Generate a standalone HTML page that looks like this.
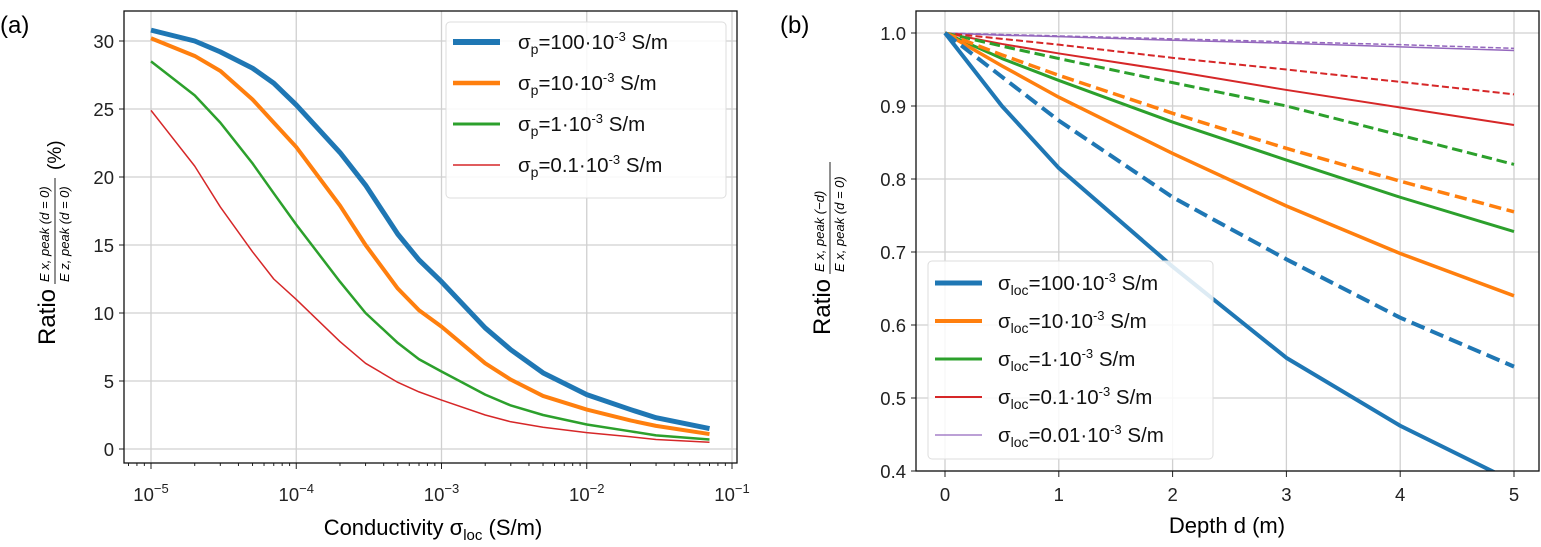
<!DOCTYPE html>
<html><head><meta charset="utf-8"><style>
body{margin:0;background:#fff}
svg{display:block;font-family:"Liberation Sans",sans-serif}
.tk{font-size:18.5px;fill:#222}
.lg{font-size:20.5px;fill:#111}
</style></head><body>
<svg id="fig" width="1541" height="547" viewBox="0 0 1541 547" xmlns="http://www.w3.org/2000/svg">
<text x="0" y="33" font-size="24">(a)</text>
<text x="780" y="33" font-size="24">(b)</text>
<g id="ga"></g>
<g id="gb"></g>
</svg>
<script>
const NS="http://www.w3.org/2000/svg";
// ---- Chart A data ----
const aX=[1e-5,2e-5,3e-5,5e-5,7e-5,1e-4,2e-4,3e-4,5e-4,7e-4,1e-3,2e-3,3e-3,5e-3,1e-2,2e-2,3e-2,7e-2];
const aBlue=[30.8,30,29.2,28,26.9,25.3,21.8,19.4,15.8,13.9,12.3,8.9,7.3,5.6,4.0,2.9,2.3,1.5];
const aOrange=[30.2,28.9,27.8,25.7,24,22.2,17.9,15,11.8,10.2,9,6.3,5.1,3.9,2.9,2.1,1.7,1.1];
const aGreen=[28.5,26,24,21,18.8,16.5,12.3,10,7.8,6.6,5.7,4,3.2,2.5,1.8,1.3,1.0,0.7];
const aRed=[24.9,20.8,17.8,14.5,12.5,11,7.9,6.3,4.9,4.2,3.6,2.5,2,1.6,1.2,0.9,0.7,0.5];
const aYTicks=[0,5,10,15,20,25,30];
const aXTicks=[-5,-4,-3,-2,-1];
const aLegend=["100·10","10·10","1·10","0.1·10"];
// ---- Chart B data ----
const bX=[0,0.5,1,2,3,4,5];
const bBlueS=[1,0.9,0.815,0.68,0.555,0.462,0.385];
const bBlueD=[1,0.94,0.88,0.775,0.69,0.61,0.543];
const bOrangeS=[1,0.955,0.912,0.835,0.763,0.698,0.64];
const bOrangeD=[1,0.97,0.942,0.89,0.842,0.797,0.755];
const bGreenS=[1,0.965,0.935,0.878,0.826,0.775,0.728];
const bGreenD=[1,0.982,0.965,0.932,0.9,0.86,0.82];
const bRedS=[1,0.985,0.972,0.948,0.922,0.898,0.874];
const bRedD=[1,0.992,0.984,0.966,0.95,0.933,0.916];
const bPurpS=[1,0.997,0.995,0.99,0.986,0.981,0.976];
const bPurpD=[1,0.998,0.996,0.992,0.988,0.984,0.979];
const bYTicks=[0.4,0.5,0.6,0.7,0.8,0.9,1.0];
const bXTicks=[0,1,2,3,4,5];
const bLegend=["100·10","10·10","1·10","0.1·10","0.01·10"];

function el(p,tag,attrs,txt){const e=document.createElementNS(NS,tag);for(const k in attrs)e.setAttribute(k,attrs[k]);if(txt!==undefined)e.textContent=txt;p.appendChild(e);return e;}
const C={b:"#1f77b4",o:"#ff7f0e",g:"#2ca02c",r:"#d62728",p:"#9467bd"};

// ===== Chart A =====
const ga=document.getElementById('ga');
const aL=124,aR=737,aT=11,aB=463;
const axX=v=>151+(Math.log10(v)+5)*145.25;
const axY=v=>449-v*13.6;
aYTicks.forEach(t=>{
 const g=el(ga,'line',{x1:aL,x2:aR,y1:axY(t),y2:axY(t),stroke:"#d0d0d0","stroke-width":1.3});
 
 el(ga,'line',{x1:aL-5,x2:aL,y1:axY(t),y2:axY(t),stroke:"#222"});
 const tx=el(ga,'text',{x:aL-10,y:axY(t)+7,"text-anchor":"end",class:"tk"},String(t));
 
});
aXTicks.forEach(e=>{
 const x=axX(Math.pow(10,e));
 const g=el(ga,'line',{x1:x,x2:x,y1:aT,y2:aB,stroke:"#d0d0d0","stroke-width":1.3});
 
 el(ga,'line',{x1:x,x2:x,y1:aB,y2:aB+6,stroke:"#222"});
 const tx=el(ga,'text',{x:x,y:501,"text-anchor":"middle",class:"tk"});
 
 el(tx,'tspan',{},"10");el(tx,'tspan',{dy:-8,"font-size":13},"−"+Math.abs(e));
 for(let m=2;m<10&&e<-1;m++){const xm=axX(m*Math.pow(10,e));el(ga,'line',{x1:xm,x2:xm,y1:aB,y2:aB+3,stroke:"#222"});}
});
for(let m=5;m<10;m++){const xm=axX(m*1e-6);if(xm>aL)el(ga,'line',{x1:xm,x2:xm,y1:aB,y2:aB+3,stroke:"#222"});}
[[aBlue,C.b,5,'series-sigma-p-100'],[aOrange,C.o,4,'series-sigma-p-10'],[aGreen,C.g,2.5,'series-sigma-p-1'],[aRed,C.r,1.5,'series-sigma-p-0.1']].forEach(([d,c,w,n])=>{
 const p=el(ga,'polyline',{points:d.map((v,i)=>axX(aX[i])+","+axY(v)).join(" "),fill:"none",stroke:c,"stroke-width":w,"stroke-linejoin":"round"});
 
});
el(ga,'rect',{x:aL,y:aT,width:aR-aL,height:aB-aT,fill:"none",stroke:"#111","stroke-width":1.3});
const la=el(ga,'rect',{x:446,y:22,width:280,height:176,fill:"#fff","fill-opacity":0.85,stroke:"#ddd",rx:4});

[[C.b,6],[C.o,4.5],[C.g,3],[C.r,1.5]].forEach(([c,w],i)=>{
 const y=42+i*41;
 el(ga,'line',{x1:453,x2:500,y1:y,y2:y,stroke:c,"stroke-width":w});
 const t=el(ga,'text',{x:518,y:y+7,class:"lg"});
 
 el(t,'tspan',{},"σ");el(t,'tspan',{dy:5,"font-size":14},"p");el(t,'tspan',{dy:-5},"="+aLegend[i]);
 el(t,'tspan',{dy:-8,"font-size":13},"-3");el(t,'tspan',{dy:8},"\u00a0S/m");
});
const xa=el(ga,'text',{x:433,y:535,"text-anchor":"middle","font-size":22});

el(xa,'tspan',{},"Conductivity σ");el(xa,'tspan',{dy:5,"font-size":15},"loc");el(xa,'tspan',{dy:-5}," (S/m)");
const ya=el(ga,'g',{transform:"translate(55,240) rotate(-90)"});

el(ya,'text',{x:-105,y:0,"font-size":24},"Ratio");
el(ya,'text',{x:-42,y:-6,"font-size":13,"font-style":"italic"},"E x, peak (d = 0)");
el(ya,'line',{x1:-44,x2:62,y1:0,y2:0,stroke:"#222"});
el(ya,'text',{x:-42,y:14,"font-size":13,"font-style":"italic"},"E z, peak (d = 0)");
el(ya,'text',{x:70,y:6,"font-size":19},"(%)");

// ===== Chart B =====
const gb=document.getElementById('gb');
const bL=916,bR=1539,bT=11,bB=471;
const bxX=v=>945+v*113.8;
const byY=v=>33+(1-v)*730;
bYTicks.forEach(t=>{
 const g=el(gb,'line',{x1:bL,x2:bR,y1:byY(t),y2:byY(t),stroke:"#d0d0d0","stroke-width":1.3});
 
 el(gb,'line',{x1:bL-5,x2:bL,y1:byY(t),y2:byY(t),stroke:"#222"});
 const tx=el(gb,'text',{x:bL-10,y:byY(t)+7,"text-anchor":"end",class:"tk"},t.toFixed(1));
 
});
bXTicks.forEach(t=>{
 const x=bxX(t);
 const g=el(gb,'line',{x1:x,x2:x,y1:bT,y2:bB,stroke:"#d0d0d0","stroke-width":1.3});
 
 el(gb,'line',{x1:x,x2:x,y1:bB,y2:bB+6,stroke:"#222"});
 const tx=el(gb,'text',{x:x,y:501,"text-anchor":"middle",class:"tk"},String(t));
 
});
const clip=el(gb,'clipPath',{id:"cb"});el(clip,'rect',{x:bL,y:bT,width:bR-bL,height:bB-bT});
[[bPurpD,C.p,1.5,true,'series-purple-dashed'],[bPurpS,C.p,1.5,false,'series-purple-solid'],
 [bRedD,C.r,2,true,'series-red-dashed'],[bRedS,C.r,2,false,'series-red-solid'],
 [bGreenD,C.g,3,true,'series-green-dashed'],[bGreenS,C.g,3,false,'series-green-solid'],
 [bOrangeD,C.o,3.5,true,'series-orange-dashed'],[bOrangeS,C.o,3.5,false,'series-orange-solid'],
 [bBlueD,C.b,4,true,'series-blue-dashed'],[bBlueS,C.b,4,false,'series-blue-solid']].forEach(([d,c,w,dash,n])=>{
 const a={points:d.map((v,i)=>bxX(bX[i])+","+byY(v)).join(" "),fill:"none",stroke:c,"stroke-width":w,"stroke-linejoin":"round","clip-path":"url(#cb)"};
 if(dash)a["stroke-dasharray"]=(w*3.5)+","+(w*1.6);
 const p=el(gb,'polyline',a);
 
});
el(gb,'rect',{x:bL,y:bT,width:bR-bL,height:bB-bT,fill:"none",stroke:"#111","stroke-width":1.3});
const lb=el(gb,'rect',{x:928,y:261,width:285,height:198,fill:"#fff","fill-opacity":0.85,stroke:"#ddd",rx:4});

[[C.b,5],[C.o,4],[C.g,3],[C.r,2],[C.p,1.3]].forEach(([c,w],i)=>{
 const y=283+i*38;
 el(gb,'line',{x1:935,x2:982,y1:y,y2:y,stroke:c,"stroke-width":w});
 const t=el(gb,'text',{x:998,y:y+7,class:"lg"});
 
 el(t,'tspan',{},"σ");el(t,'tspan',{dy:5,"font-size":14},"loc");el(t,'tspan',{dy:-5},"="+bLegend[i]);
 el(t,'tspan',{dy:-8,"font-size":13},"-3");el(t,'tspan',{dy:8},"\u00a0S/m");
});
const xb=el(gb,'text',{x:1227,y:533,"text-anchor":"middle","font-size":22},"Depth d (m)");

const yb=el(gb,'g',{transform:"translate(830,240) rotate(-90)"});

el(yb,'text',{x:-95,y:0,"font-size":24},"Ratio");
el(yb,'text',{x:-32,y:-6,"font-size":13,"font-style":"italic"},"E x, peak (−d)");
el(yb,'line',{x1:-34,x2:78,y1:0,y2:0,stroke:"#222"});
el(yb,'text',{x:-32,y:14,"font-size":13,"font-style":"italic"},"E x, peak (d = 0)");
</script>
</body></html>
